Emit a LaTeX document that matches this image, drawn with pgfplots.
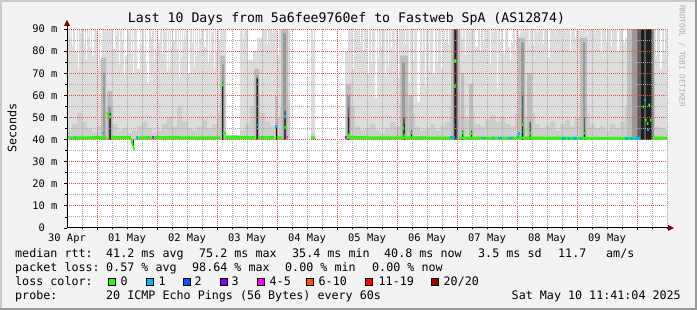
\documentclass[border=0pt]{standalone}
\usepackage{pgfplots}
\pgfplotsset{compat=1.18}
\usepackage{fontspec}
\setmainfont{DejaVu Sans Mono}
\setmonofont{DejaVu Sans Mono}
\definecolor{bg}{HTML}{F3F3F3}
\definecolor{shA}{HTML}{CBCBCB}
\definecolor{shB}{HTML}{999999}
\definecolor{gA}{HTML}{DDDDDD}
\definecolor{gB}{HTML}{CDCDCD}
\definecolor{gC}{HTML}{BEBEBE}
\definecolor{gCC}{HTML}{9A9A9A}
\definecolor{gD}{HTML}{606060}
\definecolor{gE}{HTML}{1E1E1E}
\definecolor{lz}{HTML}{26FF00}
\definecolor{la}{HTML}{00B8FF}
\definecolor{lb}{HTML}{0059FF}
\definecolor{lc}{HTML}{7E00FF}
\definecolor{ld}{HTML}{FF00FF}
\definecolor{le}{HTML}{FF5500}
\definecolor{lf}{HTML}{FF0000}
\definecolor{lg}{HTML}{A10000}
\definecolor{mgrid}{HTML}{F05050}
\definecolor{mingrid}{HTML}{A8A8A8}
\definecolor{arrowc}{HTML}{7F0000}
\pgfplotsset{
  base/.style={at={(67pt,82pt)}, anchor=south west, scale only axis,
    width=600pt, height=199pt, xmin=0, xmax=600, ymin=0, ymax=90},
  smoke/.style={const plot, draw=none, fill=#1},
  med/.style={line width=2.8pt, color=#1, unbounded coords=jump, mark=none},
}
\newcommand{\lf}{\fontsize{11.7}{14}\selectfont}
\begin{document}
\begin{tikzpicture}
\fill[bg] (0,0) rectangle (697pt,310pt);
\fill[shA] (0,0) rectangle (2pt,310pt);
\fill[shA] (0,308pt) rectangle (697pt,310pt);
\fill[shB] (0,0) rectangle (697pt,2pt);
\fill[shB] (695pt,0) rectangle (697pt,310pt);
\begin{axis}[base,
  axis on top,
  axis background/.style={fill=white},
  axis line style={draw=none},
  xtick={30,90,...,570}, xticklabels={},
  minor xtick={15,30,...,600},
  extra x ticks={0,60,...,540},
  extra x tick labels={30 Apr,01 May,02 May,03 May,04 May,05 May,06 May,07 May,08 May,09 May},
  extra x tick style={grid=none, major tick length=0pt},
  ytick={0,10,...,90},
  yticklabels={0\phantom{ m},10 m,20 m,30 m,40 m,50 m,60 m,70 m,80 m,90 m},
  minor ytick={5,15,...,85},
  grid=both,
  major grid style={mgrid, line width=1pt, dash pattern=on 1pt off 1pt},
  minor grid style={mingrid, line width=1pt, dash pattern=on 1pt off 1pt},
  xtick pos=left, ytick pos=left,
  tick align=outside, major tick length=2.5pt, minor tick length=1.5pt,
  tick style={black, line width=0.8pt},
  tick label style={font=\fontsize{10.4}{12}\selectfont},
  xticklabel style={anchor=north, inner sep=0pt, yshift=-5.3pt},
  yticklabel style={anchor=east, inner sep=0pt, xshift=-7pt},
]
% light smoke envelope
\addplot[smoke=gA] coordinates {(0,90)(3,86)(4,90)(5,82)(6,90)(8,80)(10,90)(11,72)(12,90)(13,88)(14,90)(17,83)(18,90)(19,76)(20,90)(21,86)(22,90)(23,81)(24,90)(25,78)(27,90)(29,89)(30,90)(31,73)(32,90)(33,76)(35,90)(46,81)(48,90)(49,87)(50,90)(52,74)(53,90)(55,85)(56,90)(57,69)(58,78)(60,90)(62,88)(63,90)(64,79)(65,90)(66,70)(67,90)(70,72)(73,90)(74,83)(75,90)(77,80)(78,90)(79,74)(80,66)(82,90)(84,86)(85,90)(87,75)(88,90)(89,80)(90,90)(91,84)(93,90)(95,79)(96,90)(98,88)(99,90)(100,71)(101,90)(102,73)(103,90)(104,82)(105,90)(106,85)(108,90)(110,81)(111,90)(112,68)(113,90)(114,77)(115,90)(116,84)(117,90)(118,87)(119,90)(121,70)(123,90)(125,84)(126,90)(127,73)(128,90)(129,78)(130,90)(131,80)(132,90)(133,86)(134,90)(135,71)(136,90)(137,82)(139,90)(141,75)(142,90)(143,79)(144,90)(145,88)(146,90)(147,72)(148,90)(149,80)(150,90)(152,85)(153,90)(159,39)(173,90)(176,86)(177,90)(181,76)(186,80)(190,86)(195,90)(200,83)(201,90)(205,88)(206,90)(210,78)(212,90)(217,85)(218,90)(223,39)(244,90)(246,84)(247,90)(248,39)(278,80)(281,90)(285,72)(287,90)(293,84)(294,90)(296,80)(297,90)(300,70)(302,90)(304,75)(305,90)(308,59)(310,90)(311,77)(312,90)(314,82)(315,90)(318,69)(319,90)(321,73)(322,90)(324,81)(325,90)(328,79)(329,90)(331,68)(332,90)(338,83)(339,90)(342,66)(343,90)(346,76)(347,90)(350,57)(353,90)(355,80)(356,90)(358,65)(359,90)(362,71)(363,90)(366,70)(368,90)(370,75)(371,90)(374,72)(376,90)(378,84)(379,90)(381,83)(382,90)(395,86)(396,90)(398,78)(399,90)(402,88)(403,90)(408,82)(411,90)(413,80)(414,90)(416,84)(417,90)(420,64)(421,90)(423,74)(424,90)(426,88)(427,90)(430,63)(431,90)(433,85)(434,90)(435,79)(438,90)(441,82)(443,76)(444,84)(446,90)(448,80)(449,90)(452,87)(453,90)(462,84)(463,90)(466,83)(467,90)(470,88)(471,90)(476,83)(477,90)(481,77)(483,90)(488,88)(489,90)(495,85)(496,90)(503,80)(504,90)(508,86)(509,90)(520,87)(521,90)(528,88)(529,90)(534,80)(535,90)(539,84)(540,90)(544,82)(545,90)(550,80)(552,90)(556,84)(558,86)(561,90)(586,84)(587,90)(589,78)(590,90)(593,72)(595,90)(597,80)(598,90)(600,90)} \closedcycle;
% medium smoke
\addplot[smoke=gB] coordinates {(0,44)(5,47)(10,52)(15,48)(20,45)(25,43)(30,46)(35,55)(40,58)(45,47)(50,44)(55,45)(60,43)(65,44)(70,46)(75,48)(80,45)(85,43)(90,44)(95,47)(100,50)(105,46)(110,55)(115,48)(120,45)(125,44)(130,46)(135,49)(140,45)(145,47)(150,52)(155,60)(159,42)(173,44)(178,47)(183,55)(188,60)(193,52)(198,48)(203,46)(208,50)(213,55)(218,58)(223,39)(244,43)(248,39)(278,50)(283,55)(288,46)(293,44)(298,45)(303,47)(308,44)(313,43)(318,45)(323,48)(328,46)(333,55)(338,60)(343,52)(348,46)(353,44)(358,45)(363,47)(368,44)(373,46)(378,48)(383,55)(388,62)(393,55)(398,50)(403,52)(408,47)(413,46)(418,49)(423,51)(428,48)(433,50)(438,47)(443,46)(448,52)(453,58)(458,50)(463,52)(468,47)(473,45)(478,46)(483,48)(488,44)(493,47)(498,49)(503,46)(508,50)(513,56)(518,52)(523,47)(528,45)(533,46)(538,44)(543,47)(548,45)(553,48)(558,55)(563,62)(568,70)(573,80)(578,80)(583,70)(588,46)(593,45)(598,44)(600,44)} \closedcycle;
% darker smoke
\addplot[smoke=gC] coordinates {(0,0)(34,77)(39,0)(40,62)(45,0)(153,78)(158,0)(187,72)(192,0)(208,60)(210,0)(214,90)(221,0)(279,65)(284,0)(333,78)(341,0)(342,60)(346,0)(384,90)(393,0)(394,70)(397,0)(402,65)(406,0)(451,86)(458,0)(460,70)(465,0)(513,86)(520,0)(560,90)(587,0)(600,0)} \closedcycle;
\addplot[smoke=gCC] coordinates {(0,0)(36,70)(38,0)(41,55)(44,0)(155,74)(157,0)(189,69)(191,0)(216,88)(219,0)(280,60)(283,0)(335,75)(338,0)(386,90)(391,0)(454,84)(457,0)(516,84)(518,0)(565,90)(587,0)(600,0)} \closedcycle;
\addplot[smoke=gD] coordinates {(0,0)(42,52)(44,0)(155,66)(156,0)(189,67.7)(190.5,0)(217,53)(219,0)(281,55)(282,0)(336,50)(338,0)(387,90)(390,0)(455,60)(456,0)(517,50)(518,0)(570,90)(586,0)(600,0)} \closedcycle;
\addplot[smoke=gE] coordinates {(0,0)(42.5,52)(43.5,0)(155,65)(156,0)(190,67.7)(191,0)(209,45.5)(210,0)(217.5,51)(218.5,0)(281,50)(282,0)(336.5,47)(337.5,0)(344,44)(345,0)(387.5,90)(389,0)(395,44)(396,0)(404,44)(405,0)(455,47)(456,0)(462.5,48)(463.5,0)(517,44)(518,0)(574,90)(577,0)(579,90)(584,0)(600,0)} \closedcycle;
% clear below the smoke
\addplot[fill=white, draw=none] coordinates {(0,39.8)(600,39.8)} \closedcycle;
\addplot[gE, line width=1pt] coordinates {(66,40)(66,36)};
\end{axis}
\begin{axis}[base, hide axis]
% median rtt, coloured by loss
\addplot[med=lz] coordinates {(0,40.8)(39.5,40.9)(39.5,nan)(44,41)(64,40.9)(64,nan)(69,40.8)(84.5,40.9)(84.5,nan)(86.5,40.9)(153,40.8)(153,nan)(158,41)(188,40.9)(188,nan)(192,40.9)(207.5,41)(207.5,nan)(210,40.9)(215,40.9)(215,nan)(244,40.8)(248,40.8)(248,nan)(280,40.9)(385,40.7)(385,nan)(392,40.7)(573,40.6)(573,nan)(586,40.7)(600,40.7)};
\addplot[lz, line width=1.8pt] coordinates {(64,40.6)(65.5,37.8)(67,35.8)(68,35.6)};
\addplot[med=lz] coordinates {(40,52.2)(41.8,51.5)(41.8,nan)(42,50.3)(44,50.3)(44,nan)(155,64.7)(157,64.7)(157,nan)(156.5,43.3)(158.5,42.3)(158.5,nan)(217.5,45.4)(219.5,45.6)(219.5,nan)(280,42)(283,42)(283,nan)(335,45.2)(337,45.2)(337,nan)(336.5,41.8)(338.5,41.8)(338.5,nan)(343,43)(345,43)(345,nan)(387,76)(389,75.2)(389,nan)(386.5,64)(388.5,64)(388.5,nan)(395,43)(397,43)(397,nan)(403,43)(405,42.5)(405,nan)(455,46.6)(456.5,46.6)(456.5,nan)(456,44)(458,43.5)(458,nan)(462,43)(464,43)(464,nan)(516,43)(518,43)(518,nan)(575.5,54.8)(577.2,54.8)(577.2,nan)(577.8,48.8)(579.5,48.8)(579.5,nan)(579.8,47.3)(581.3,47.3)(581.3,nan)(581.3,55.6)(583,55.6)(583,nan)(583,48.8)(584.7,48.8)};
\addplot[med=la] coordinates {(7.5,40.8)(9,40.8)(9,nan)(35,43)(37,43)(37,nan)(69,41)(71,41)(71,nan)(190,46.6)(191.8,46.6)(191.8,nan)(208,45.8)(209.8,45.8)(209.8,nan)(217,50.3)(218.8,50.3)(218.8,nan)(386,46.6)(387.8,46.6)(387.8,nan)(383,40.8)(388,40.8)(388,nan)(415,40.7)(418,40.7)(418,nan)(425,40.7)(426.5,40.7)(426.5,nan)(431,40.7)(435,40.7)(435,nan)(441,40.7)(446,40.7)(446,nan)(450,41.3)(451.5,41.3)(451.5,nan)(451,42.8)(452.7,42.8)(452.7,nan)(495,40.6)(498,40.6)(498,nan)(501,40.6)(503,40.6)(503,nan)(506,40.6)(510,40.6)(510,nan)(513,40.6)(515,40.6)(515,nan)(558,40.6)(561,40.6)(561,nan)(563,40.6)(566,40.6)(566,nan)(568,40.6)(573,40.6)(573,nan)(577,57.9)(578.6,57.9)(578.6,nan)(580,44.3)(581.6,44.3)};
\addplot[med=ld] coordinates {(85,41)(86.7,41)(86.7,nan)(219.5,41.2)(221.2,41.2)(221.2,nan)(277.5,41)(279.5,41)};
\end{axis}
% axis lines and arrows
\draw[black, line width=1pt] (67pt,82pt) -- (670pt,82pt);
\fill[arrowc] (668pt,79pt) -- (674pt,82pt) -- (668pt,85pt) -- cycle;
\draw[black, line width=1pt] (67pt,82pt) -- (67pt,286pt);
\fill[arrowc] (64pt,284pt) -- (67pt,290pt) -- (70pt,284pt) -- cycle;
% title and labels
\node[anchor=base, inner sep=0pt, font=\fontsize{13.2}{15}\selectfont] at (346.5pt,287.2pt) {Last 10 Days from 5a6fee9760ef to Fastweb SpA (AS12874)};
\node[rotate=90, inner sep=0pt, font=\lf] at (12pt,182pt) {Seconds};
\node[rotate=-90, inner sep=0pt, text=black!32, font=\fontsize{7.7}{9}\selectfont] at (682pt,254pt) {RRDTOOL / TOBI OETIKER};
% legend
\begin{scope}[every node/.style={anchor=base west, inner sep=0pt, font=\lf}]
\node at (15pt,52pt) {median rtt:};
\node at (106pt,52pt) {41.2 ms avg};
\node at (199pt,52pt) {75.2 ms max};
\node at (292pt,52pt) {35.4 ms min};
\node at (384pt,52pt) {40.8 ms now};
\node at (478pt,52pt) {3.5 ms sd};
\node at (558pt,52pt) {11.7};
\node at (606pt,52pt) {am/s};
\node at (15pt,38pt) {packet loss:};
\node at (106pt,38pt) {0.57 \% avg};
\node at (192pt,38pt) {98.64 \% max};
\node at (285pt,38pt) {0.00 \% min};
\node at (372pt,38pt) {0.00 \% now};
\node at (15pt,24pt) {loss color:};
\node at (120.5pt,24pt) {0};
\node at (158.5pt,24pt) {1};
\node at (194.5pt,24pt) {2};
\node at (231.5pt,24pt) {3};
\node at (269.5pt,24pt) {4-5};
\node at (318.5pt,24pt) {6-10};
\node at (378.5pt,24pt) {11-19};
\node at (443.5pt,24pt) {20/20};
\node at (15pt,10pt) {probe:};
\node at (106pt,10pt) {20 ICMP Echo Pings (56 Bytes) every 60s};
\node[anchor=base east] at (681pt,10pt) {Sat May 10 11:41:04 2025};
\end{scope}
\begin{scope}[line width=0.8pt]
\filldraw[fill=lz, draw=black] (108.5pt,24.5pt) rectangle (115.5pt,31.5pt);
\filldraw[fill=la, draw=black] (146.5pt,24.5pt) rectangle (153.5pt,31.5pt);
\filldraw[fill=lb, draw=black] (183.5pt,24.5pt) rectangle (190.5pt,31.5pt);
\filldraw[fill=lc, draw=black] (220.5pt,24.5pt) rectangle (227.5pt,31.5pt);
\filldraw[fill=ld, draw=black] (257.5pt,24.5pt) rectangle (264.5pt,31.5pt);
\filldraw[fill=le, draw=black] (306.5pt,24.5pt) rectangle (313.5pt,31.5pt);
\filldraw[fill=lf, draw=black] (365.5pt,24.5pt) rectangle (372.5pt,31.5pt);
\filldraw[fill=lg, draw=black] (431.5pt,24.5pt) rectangle (438.5pt,31.5pt);
\end{scope}
\pgfresetboundingbox
\useasboundingbox (0,0) rectangle (697pt,310pt);
\end{tikzpicture}
\end{document}
